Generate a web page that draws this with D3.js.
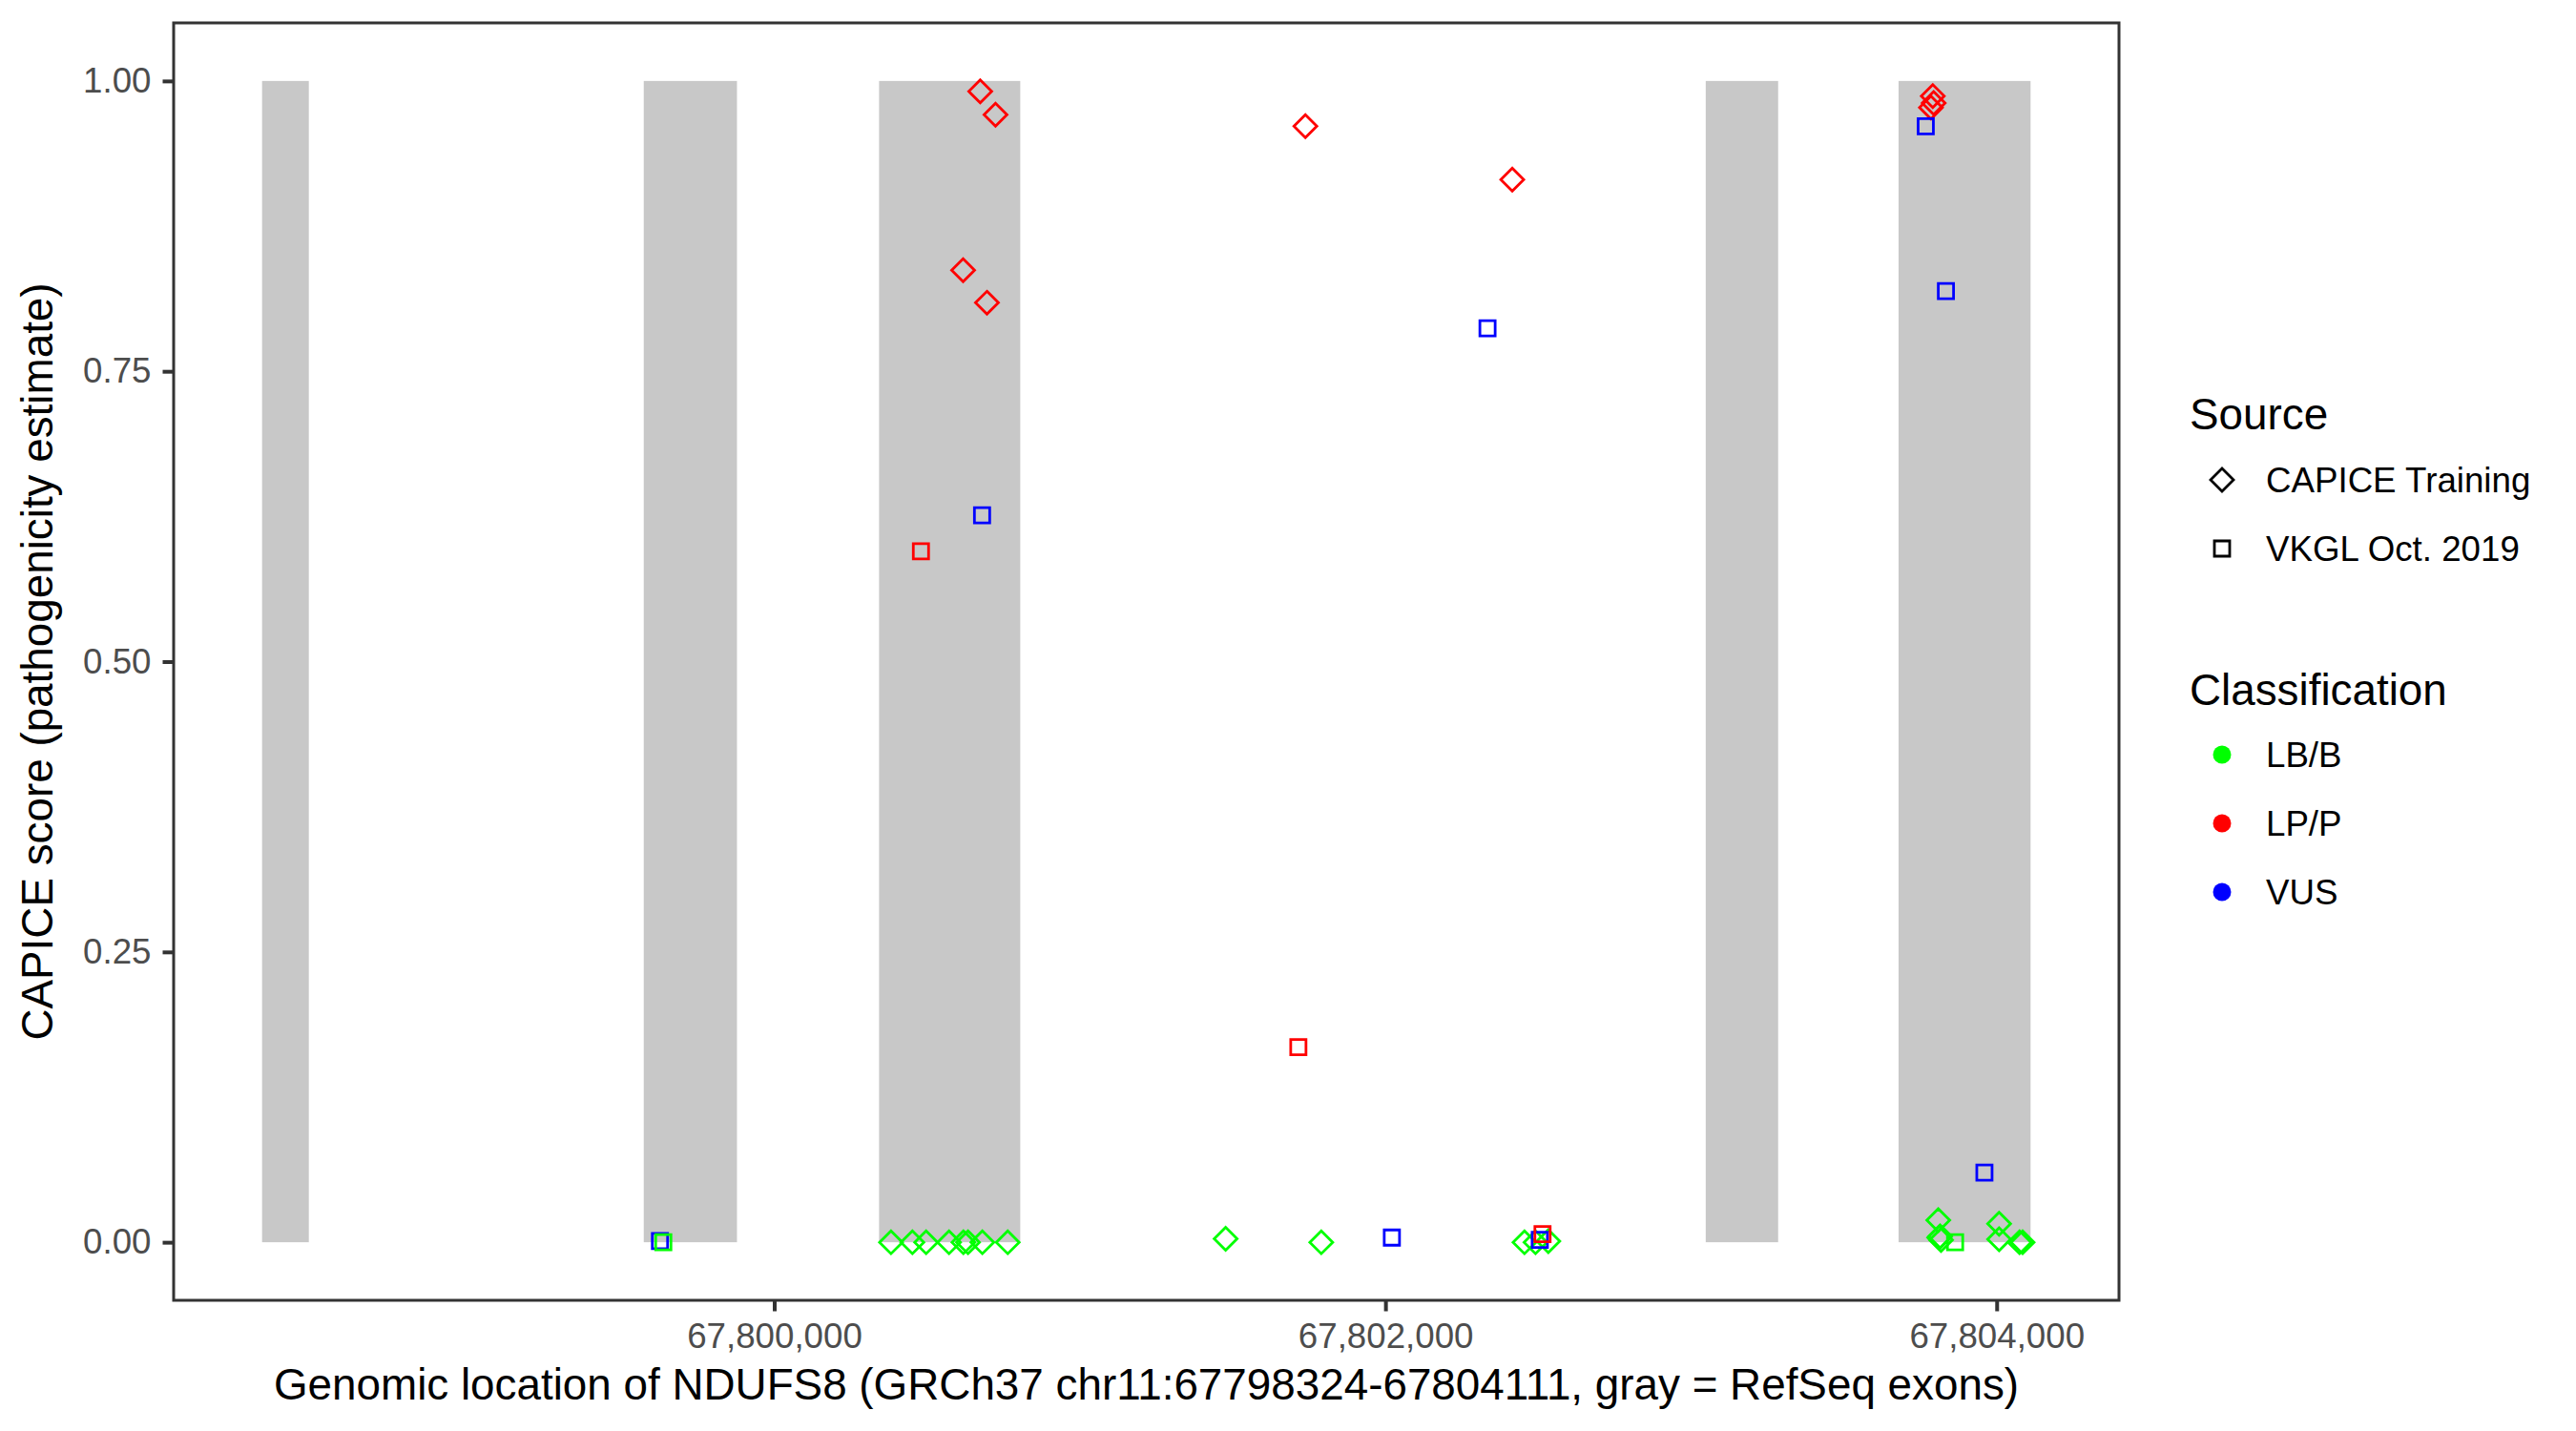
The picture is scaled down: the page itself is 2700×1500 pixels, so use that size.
<!DOCTYPE html>
<html>
<head>
<meta charset="utf-8">
<script src="https://cdn.jsdelivr.net/npm/d3@7"></script>
<style>
  body { margin: 0; background: #fff; }
  svg { font-family: "Liberation Sans", Arial, sans-serif; }
</style>
</head>
<body>
<svg id="chart" width="2700" height="1500"></svg>
<script>
// Gene region and RefSeq exons (gray bands)
const geneStart = 67798324;
const geneEnd = 67804111;
const exonStarts = [67798324, 67799573, 67800343, 67803048, 67803679];
const exonEnds = [67798477, 67799878, 67800805, 67803285, 67804111];

// Variants: genomic position, CAPICE score, source and classification
const positions = [
  67800674, 67800724, 67800618, 67800696, 67801738, 67802415, 67803791, 67803794, 67803785,
  67800382, 67800452, 67800497, 67800572, 67800619, 67800634, 67800681, 67800764,
  67801477, 67801790, 67802455, 67802491, 67802533,
  67803809, 67803815, 67803812, 67803818, 67804008, 67804008, 67804075, 67804085,
  67800480, 67801715,
  67800680, 67802334, 67803768, 67803834, 67803960, 67802021, 67799626, 67802505,
  67799637, 67803864,
  67802514
];
const scores = [
  0.991, 0.971, 0.837, 0.809, 0.961, 0.915, 0.987, 0.981, 0.977,
  0, 0, 0, 0, 0, 0, 0, 0,
  0.003, 0, 0, 0, 0.001,
  0.019, 0.005, 0.004, 0.002, 0.016, 0.0025, 0, 0,
  0.595, 0.168,
  0.626, 0.787, 0.961, 0.819, 0.060, 0.004, 0.001, 0.002,
  0, 0,
  0.007
];
const sources = [
  "CAPICE Training", "CAPICE Training", "CAPICE Training", "CAPICE Training", "CAPICE Training",
  "CAPICE Training", "CAPICE Training", "CAPICE Training", "CAPICE Training",
  "CAPICE Training", "CAPICE Training", "CAPICE Training", "CAPICE Training",
  "CAPICE Training", "CAPICE Training", "CAPICE Training", "CAPICE Training",
  "CAPICE Training", "CAPICE Training", "CAPICE Training", "CAPICE Training", "CAPICE Training",
  "CAPICE Training", "CAPICE Training", "CAPICE Training", "CAPICE Training",
  "CAPICE Training", "CAPICE Training", "CAPICE Training", "CAPICE Training",
  "VKGL Oct. 2019", "VKGL Oct. 2019",
  "VKGL Oct. 2019", "VKGL Oct. 2019", "VKGL Oct. 2019", "VKGL Oct. 2019",
  "VKGL Oct. 2019", "VKGL Oct. 2019", "VKGL Oct. 2019", "VKGL Oct. 2019",
  "VKGL Oct. 2019", "VKGL Oct. 2019",
  "VKGL Oct. 2019"
];
const classes = [
  "LP/P", "LP/P", "LP/P", "LP/P", "LP/P", "LP/P", "LP/P", "LP/P", "LP/P",
  "LB/B", "LB/B", "LB/B", "LB/B", "LB/B", "LB/B", "LB/B", "LB/B",
  "LB/B", "LB/B", "LB/B", "LB/B", "LB/B",
  "LB/B", "LB/B", "LB/B", "LB/B", "LB/B", "LB/B", "LB/B", "LB/B",
  "LP/P", "LP/P",
  "VUS", "VUS", "VUS", "VUS", "VUS", "VUS", "VUS", "VUS",
  "LB/B", "LB/B",
  "LP/P"
];

const sourceLevels = ["CAPICE Training", "VKGL Oct. 2019"];
const classLevels = ["LB/B", "LP/P", "VUS"];
const classColors = ["#00FF00", "#FF0000", "#0000FF"];
const xTicks = [67800000, 67802000, 67804000];
const yTicks = [0, 0.25, 0.5, 0.75, 1];

const margin = {left: 182, top: 24, right: 2221, bottom: 1363};
const svg = d3.select("#chart");

// ggplot-style 5% expansion on both axes
const span = geneEnd - geneStart;
const x = d3.scaleLinear()
  .domain([geneStart - span * 0.05, geneEnd + span * 0.05])
  .range([margin.left, margin.right]);
const y = d3.scaleLinear()
  .domain([-0.05, 1.05])
  .range([margin.bottom, margin.top]);
const color = d3.scaleOrdinal().domain(classLevels).range(classColors);

const diamond = (r) => `M0,${-r}L${r},0L0,${r}L${-r},0Z`;
const square = (h) => `M${-h},${-h}H${h}V${h}H${-h}Z`;
const shapePath = (s) => (s === sourceLevels[0] ? diamond(12) : square(8));

// Exon bands
const exons = exonStarts.map((s, i) => ({start: s, end: exonEnds[i]}));
svg.append("g")
  .selectAll("rect")
  .data(exons)
  .join("rect")
  .attr("x", (d) => x(d.start))
  .attr("width", (d) => x(d.end) - x(d.start))
  .attr("y", y(1))
  .attr("height", y(0) - y(1))
  .attr("fill", "#C8C8C8");

// Points
const points = positions.map((p, i) => ({pos: p, score: scores[i], source: sources[i], cls: classes[i]}));
svg.append("g")
  .selectAll("path")
  .data(points)
  .join("path")
  .attr("transform", (d) => `translate(${x(d.pos)},${y(d.score)})`)
  .attr("d", (d) => shapePath(d.source))
  .attr("fill", "none")
  .attr("stroke", (d) => color(d.cls))
  .attr("stroke-width", 2.8);

// Panel border
svg.append("rect")
  .attr("x", margin.left)
  .attr("y", margin.top)
  .attr("width", margin.right - margin.left)
  .attr("height", margin.bottom - margin.top)
  .attr("fill", "none")
  .attr("stroke", "#333333")
  .attr("stroke-width", 3);

// Axes
const xAxis = svg.append("g")
  .attr("transform", `translate(0,${margin.bottom})`)
  .call(d3.axisBottom(x).tickValues(xTicks).tickFormat(d3.format(",")).tickSize(11.5).tickPadding(12));
const yAxis = svg.append("g")
  .attr("transform", `translate(${margin.left},0)`)
  .call(d3.axisLeft(y).tickValues(yTicks).tickFormat(d3.format(".2f")).tickSize(11.5).tickPadding(12));

[xAxis, yAxis].forEach((g) => {
  g.select(".domain").remove();
  g.selectAll(".tick line").attr("stroke", "#333333").attr("stroke-width", 4);
  g.selectAll(".tick text")
    .attr("fill", "#4D4D4D")
    .attr("font-size", 36.7)
    .attr("font-family", "Liberation Sans, Arial, sans-serif");
});

// Axis titles
svg.append("text")
  .attr("x", (margin.left + margin.right) / 2)
  .attr("y", 1467)
  .attr("text-anchor", "middle")
  .attr("font-size", 45.8)
  .text("Genomic location of NDUFS8 (GRCh37 chr11:67798324-67804111, gray = RefSeq exons)");

svg.append("text")
  .attr("transform", `translate(55,${(margin.top + margin.bottom) / 2}) rotate(-90)`)
  .attr("text-anchor", "middle")
  .attr("font-size", 45.8)
  .text("CAPICE score (pathogenicity estimate)");

// Legends
const legendX = 2295;
const keyX = 2329;
const textX = 2375;

svg.append("text")
  .attr("x", legendX).attr("y", 450)
  .attr("font-size", 45.8)
  .text("Source");

const srcKeys = svg.append("g")
  .selectAll("g")
  .data(sourceLevels)
  .join("g")
  .attr("transform", (d, i) => `translate(0,${503 + i * 72})`);
srcKeys.append("path")
  .attr("transform", `translate(${keyX},0)`)
  .attr("d", (d) => shapePath(d))
  .attr("fill", "none")
  .attr("stroke", "#000")
  .attr("stroke-width", 2.8);
srcKeys.append("text")
  .attr("x", textX)
  .attr("dy", "0.35em")
  .attr("font-size", 36.7)
  .text((d) => d);

svg.append("text")
  .attr("x", legendX).attr("y", 739)
  .attr("font-size", 45.8)
  .text("Classification");

const clsKeys = svg.append("g")
  .selectAll("g")
  .data(classLevels)
  .join("g")
  .attr("transform", (d, i) => `translate(0,${791 + i * 72})`);
clsKeys.append("circle")
  .attr("cx", keyX)
  .attr("r", 9.5)
  .attr("fill", (d) => color(d));
clsKeys.append("text")
  .attr("x", textX)
  .attr("dy", "0.35em")
  .attr("font-size", 36.7)
  .text((d) => d);
</script>
</body>
</html>
